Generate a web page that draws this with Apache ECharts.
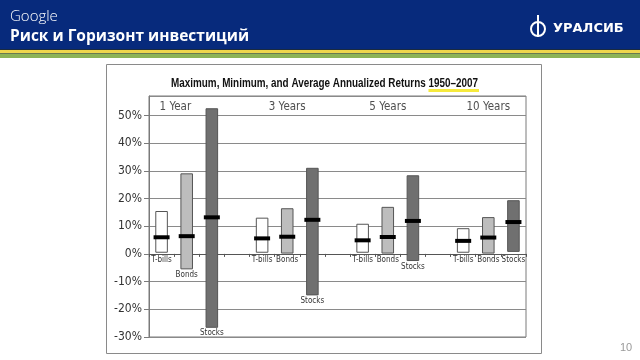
<!DOCTYPE html>
<html>
<head>
<meta charset="utf-8">
<script src="https://cdn.jsdelivr.net/npm/echarts@6/dist/echarts.min.js"></script>
<style>
  html, body { margin: 0; padding: 0; background: #fff; }
  #chart { width: 640px; height: 360px; }
</style>
</head>
<body>
<div id="chart"></div>
<script>
// horizons and asset classes
const groups = ["1 Year", "3 Years", "5 Years", "10 Years"];
const assets = ["T-bills", "Bonds", "Stocks"];
// annualized returns, %
const maxRet = [
  [15.3, 28.9, 52.4],
  [12.9, 16.3, 30.9],
  [10.7, 16.8, 28.2],
  [9.1, 13.1, 19.2]
];
const minRet = [
  [0.6, -5.4, -26.5],
  [0.6, 0.3, -14.8],
  [0.6, 0.3, -2.4],
  [0.6, 0.3, 0.9]
];
const avgRet = [
  [6.0, 6.4, 13.2],
  [5.6, 6.2, 12.3],
  [4.9, 6.1, 11.9],
  [4.7, 5.9, 11.5]
];
const yTicks = [-30, -20, -10, 0, 10, 20, 30, 40, 50];
const titleMain = "Maximum, Minimum, and Average Annualized Returns ";
const titleYears = "1950\u20132007";

const NARROW = '"DejaVu Sans Condensed", "Liberation Sans", sans-serif';
const TITLE_FONT = 'bold 12px "Liberation Sans", sans-serif';
const assetColors = ["#ffffff", "#bdbdbd", "#707070"];

// 15 slots: 3 bars + 1 gap per horizon
const slots = [];
const rangeData = [];
groups.forEach((g, gi) => {
  assets.forEach((a, ai) => {
    slots.push(g + " " + a);
    rangeData.push([slots.length - 1, minRet[gi][ai], maxRet[gi][ai], avgRet[gi][ai], ai]);
  });
  if (gi < groups.length - 1) slots.push("");
});
const groupData = groups.map((g, gi) => ({
  value: [gi === 0 ? 0 : gi * 4 + 1, 53],
  name: g,
  label: { align: gi === 0 ? "left" : "center", offset: gi === 0 ? [-2, 0] : [0, 0] }
}));

// squeeze the title to the narrow width of the original
const ctx = document.createElement("canvas").getContext("2d");
ctx.font = TITLE_FONT;
const fullW = ctx.measureText(titleMain + titleYears).width;
const mainW = ctx.measureText(titleMain).width;
const sx = 307 / fullW;

const chart = echarts.init(document.getElementById("chart"));
chart.setOption({
  animation: false,
  graphic: [
    { type: "rect", shape: { x: 0, y: 0, width: 640, height: 49 }, style: { fill: "#072a7c" }, z: -10 },
    { type: "rect", shape: { x: 0, y: 49, width: 640, height: 1 }, style: { fill: "#1a2a40" }, z: -10 },
    { type: "rect", shape: { x: 0, y: 50, width: 640, height: 3 }, style: { fill: "#efd64c" }, z: -10 },
    { type: "rect", shape: { x: 0, y: 53, width: 640, height: 1 }, style: { fill: "#6a7a50" }, z: -10 },
    { type: "rect", shape: { x: 0, y: 54, width: 640, height: 4 }, style: { fill: "#8db356" }, z: -10 },
    { type: "text", x: 10, y: 9, style: { text: "Google", fill: "#fff", font: '300 15px "Open Sans", sans-serif' } },
    { type: "text", x: 10, y: 29, style: { text: "Риск и Горизонт инвестиций", fill: "#fff", font: 'bold 15.5px "Open Sans", sans-serif' } },
    { type: "circle", shape: { cx: 538, cy: 29, r: 7 }, style: { fill: "none", stroke: "#fff", lineWidth: 2 } },
    { type: "rect", shape: { x: 537, y: 15, width: 2, height: 22 }, style: { fill: "#fff" } },
    { type: "text", x: 553, y: 22, style: { text: "УРАЛСИБ", fill: "#fff", font: 'bold 13px "DejaVu Sans", sans-serif' } },
    { type: "rect", shape: { x: 106.5, y: 64.5, width: 435, height: 289 }, style: { fill: "none", stroke: "#8a8a8a", lineWidth: 1 }, z: -5 },
    { type: "rect", shape: { x: 171 + mainW * sx, y: 89, width: (fullW - mainW) * sx + 1, height: 3 }, style: { fill: "#f6ea3c" }, z: -1 },
    {
      type: "text", x: 171, y: 83.5, scaleX: sx,
      style: { text: titleMain + titleYears, fill: "#111", font: TITLE_FONT, textVerticalAlign: "middle" }
    },
    { type: "text", x: 620, y: 342, style: { text: "10", fill: "#9a9a9a", font: '11px "Liberation Sans", sans-serif' } }
  ],
  grid: {
    left: 149, top: 96, width: 377, height: 241,
    show: true, borderColor: "#7a7a7a", borderWidth: 1
  },
  xAxis: {
    type: "category",
    data: slots,
    axisLine: { onZero: true, lineStyle: { color: "#555", width: 1 } },
    axisTick: { show: true, interval: 0, length: 3, lineStyle: { color: "#555" } },
    axisLabel: { show: false },
    splitLine: { show: false }
  },
  yAxis: {
    type: "value",
    min: yTicks[0],
    max: 57,
    interval: 10,
    axisLine: { show: true, lineStyle: { color: "#7a7a7a" } },
    axisTick: { show: true, length: 5, lineStyle: { color: "#7a7a7a" } },
    axisLabel: {
      formatter: "{value}%",
      showMaxLabel: false,
      margin: 7,
      fontFamily: NARROW,
      fontSize: 12,
      color: "#333"
    },
    splitLine: { lineStyle: { color: "#8a8a8a", width: 1.2 } }
  },
  series: [
    {
      type: "custom",
      data: rangeData,
      encode: { x: 0, y: [1, 2, 3] },
      renderItem: function (params, api) {
        const x = api.value(0);
        const lo = api.value(1);
        const hi = api.value(2);
        const avg = api.value(3);
        const ai = api.value(4);
        const top = api.coord([x, hi]);
        const bot = api.coord([x, lo]);
        const mid = api.coord([x, avg]);
        const lab = api.coord([x, Math.min(lo, 0)]);
        const w = api.size([1, 0])[0] * 0.46;
        return {
          type: "group",
          children: [
            {
              type: "rect",
              shape: { x: top[0] - w / 2, y: top[1], width: w, height: bot[1] - top[1] },
              style: { fill: assetColors[ai], stroke: "#555", lineWidth: 1 }
            },
            {
              type: "rect",
              shape: { x: mid[0] - 8, y: mid[1] - 2, width: 16, height: 4 },
              style: { fill: "#000" }
            },
            {
              type: "text",
              x: lab[0],
              y: lab[1] + 2,
              style: {
                text: assets[ai],
                textAlign: "center",
                textVerticalAlign: "top",
                font: '8px ' + NARROW,
                fill: "#333"
              }
            }
          ]
        };
      }
    },
    {
      type: "scatter",
      symbolSize: 0,
      data: groupData,
      label: {
        show: true,
        position: "inside",
        formatter: "{b}",
        fontFamily: NARROW,
        fontSize: 11.5,
        color: "#222"
      }
    }
  ]
});
</script>
</body>
</html>
